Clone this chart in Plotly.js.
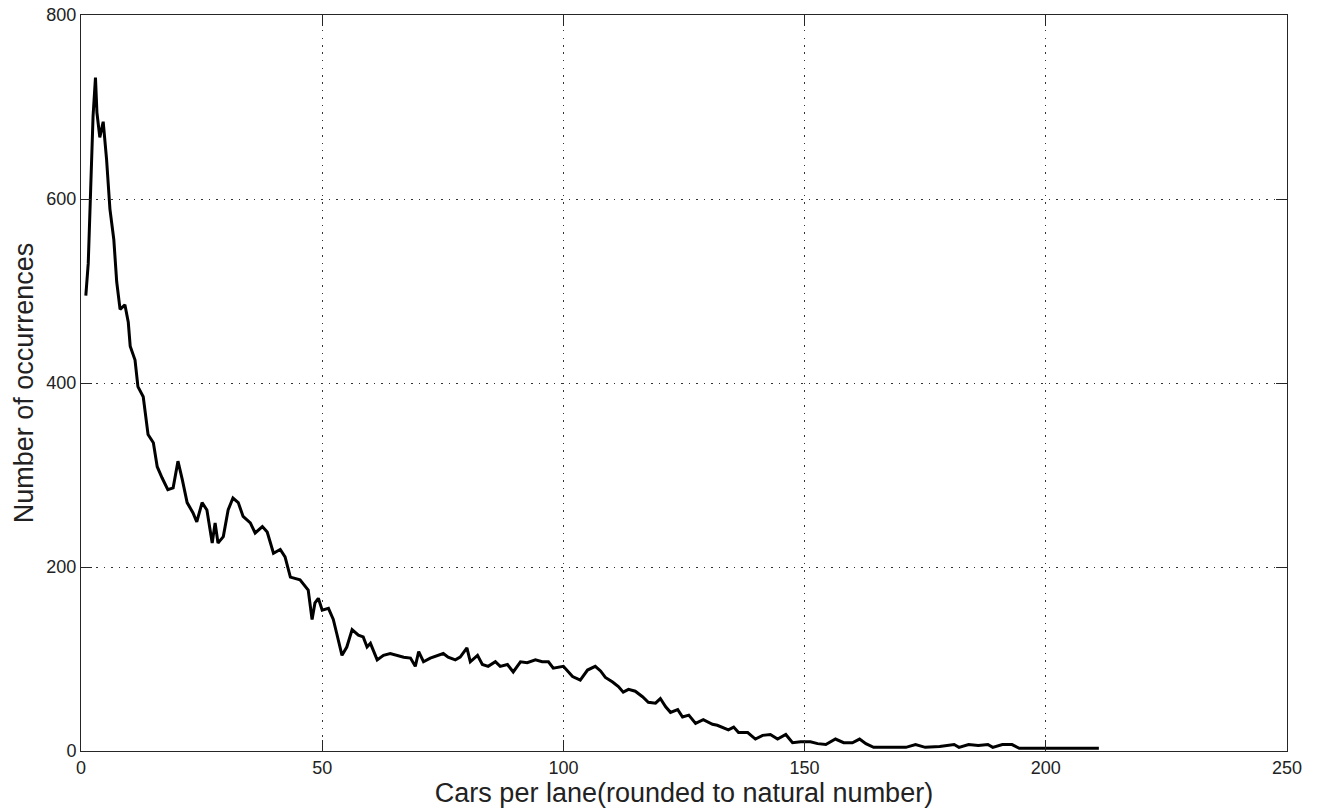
<!DOCTYPE html>
<html>
<head>
<meta charset="utf-8">
<script src="https://cdn.plot.ly/plotly-3.0.1.min.js"></script>
<style>
  html, body { margin: 0; padding: 0; background: #fff; }
  #chart { width: 1319px; height: 812px; }
</style>
</head>
<body>
<div id="chart"></div>
<script>
// Cars per lane (rounded) -> number of occurrences
const carsPerLane = [
  1, 1.5, 2, 2.5, 3, 3.3, 3.9, 4.6, 5.3, 6, 6.8, 7.4, 8.1, 9.1, 9.8, 10.2, 11.2, 11.8, 12.9, 13.6,
  13.9, 15, 15.8, 16.8, 18, 19.1, 20.1, 21, 22, 23.2, 24, 25.1, 26.1, 27.2, 27.8, 28.4, 29.5, 30.5, 31.5, 32.6,
  33.6, 35.1, 36.1, 37.6, 38.6, 39.9, 41.3, 42.3, 43.4, 45.4, 47.1, 47.9, 48.5, 49.2, 50, 51.3, 52.3, 53, 54.1, 55.1,
  56.2, 57.5, 58.5, 59.3, 60, 61.4, 62.7, 64.1, 65.5, 66.9, 68.3, 69.3, 70, 71, 72.4, 73.8, 75.1, 76.1, 77.6, 78.6,
  80, 80.7, 82.2, 83.2, 84.4, 85.9, 86.9, 88.4, 89.6, 91.1, 92.5, 94.2, 95.6, 96.9, 97.9, 100, 101.9, 103.5, 105, 106.6,
  107.7, 108.7, 110.2, 111.4, 112.4, 113.5, 114.9, 116.4, 117.6, 119.1, 120.1, 121.2, 122.2, 123.7, 124.7, 126, 127.4, 129, 130.9, 131.9,
  133.2, 134.2, 135.3, 136.3, 138.2, 139.8, 141.3, 142.9, 144.4, 146.1, 147.5, 149.2, 151.2, 152.7, 154.4, 156.4, 158.1, 159.9, 161.4, 162.7,
  164.3, 168.5, 171, 173, 175, 178, 181, 182, 184, 186, 188, 189, 191, 193, 194.5, 211
];
const occurrences = [
  495, 530, 610, 690, 732, 694, 667, 684, 643, 589, 556, 510, 480, 485, 466, 440, 425, 396, 385, 360,
  344, 335, 309, 297, 284, 286, 315, 295, 270, 259, 249, 270, 262, 226, 248, 226, 233, 262, 275, 270,
  255, 248, 237, 244, 238, 215, 219, 211, 189, 186, 175, 143, 161, 166, 153, 155, 143, 128, 104, 113,
  132, 126, 124, 113, 117, 99, 104, 106, 104, 102, 101, 92, 108, 97, 101, 104, 106, 102, 99, 102,
  112, 97, 104, 94, 92, 97, 92, 94, 86, 97, 96, 99, 97, 97, 90, 92, 81, 77, 88, 92,
  87, 80, 75, 70, 64, 67, 65, 59, 53, 52, 57, 48, 42, 45, 37, 39, 30, 34, 29, 28,
  25, 23, 26, 20, 20, 13, 17, 18, 13, 18, 9, 10, 10, 8, 7, 13, 9, 9, 13, 8,
  4, 4, 4, 7, 4, 5, 7, 4, 7, 6, 7, 4, 7, 7, 3, 3
];
const xTicks = [0, 50, 100, 150, 200, 250];
const yTicks = [0, 200, 400, 600, 800];

const trace = {
  x: carsPerLane,
  y: occurrences,
  type: 'scatter',
  mode: 'lines',
  line: { color: '#000000', width: 3 },
  hoverinfo: 'x+y'
};

const axisCommon = {
  showline: true,
  linecolor: '#262626',
  linewidth: 1,
  mirror: 'ticks',
  ticks: 'inside',
  ticklen: 11,
  tickcolor: '#262626',
  tickwidth: 1,
  showgrid: true,
  gridcolor: '#333333',
  gridwidth: 1,
  griddash: '1.5px,6px',
  zeroline: false,
  tickfont: { family: 'Liberation Sans, Arial, sans-serif', size: 18, color: '#222' },
  automargin: false
};

const layout = {
  width: 1319,
  height: 812,
  margin: { l: 81, r: 32, t: 15, b: 61 },
  paper_bgcolor: '#ffffff',
  plot_bgcolor: '#ffffff',
  showlegend: false,
  xaxis: Object.assign({}, axisCommon, {
    range: [0, 250],
    tickvals: xTicks,
    ticktext: xTicks.map(String),
    title: { text: 'Cars per lane(rounded to natural number)', font: { family: 'Liberation Sans, Arial, sans-serif', size: 27, color: '#222' }, standoff: 2 }
  }),
  yaxis: Object.assign({}, axisCommon, {
    range: [0, 800],
    tickvals: yTicks,
    ticktext: yTicks.map(String),
    title: { text: 'Number of occurrences', font: { family: 'Liberation Sans, Arial, sans-serif', size: 27, color: '#222' }, standoff: 4 }
  })
};

Plotly.newPlot('chart', [trace], layout, { displayModeBar: false, staticPlot: false });
</script>
</body>
</html>
